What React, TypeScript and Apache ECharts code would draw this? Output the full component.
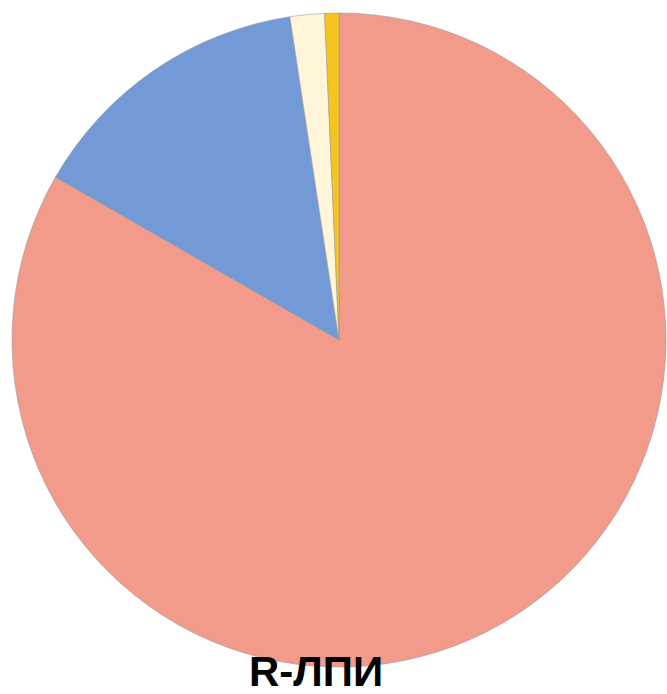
import React, { useEffect, useRef } from "react";
import * as echarts from "echarts";

const categories = ["A", "B", "C", "D"];
const values = [83.3, 14.3, 1.7, 0.7];
const colors = ["#F29B8B", "#7499D7", "#FFF5D8", "#F7C41D"];
const titleText = "R-ЛПИ";

export default function App() {
  const ref = useRef<HTMLDivElement>(null);
  useEffect(() => {
    const chart = echarts.init(ref.current!, null, { renderer: "svg" });
    chart.setOption({
      animation: false,
      backgroundColor: "#ffffff",
      title: {
        text: titleText,
        left: 316,
        top: 650,
        padding: 0,
        textAlign: "center",
        textStyle: {
          fontFamily: "Liberation Sans, Arial, sans-serif",
          fontWeight: "bold",
          fontSize: 42,
          lineHeight: 42,
          color: "#000",
        },
      },
      series: [
        {
          type: "pie",
          center: [339, 340],
          radius: [0, 327],
          startAngle: 90,
          clockwise: true,
          label: { show: false },
          labelLine: { show: false },
          emphasis: { disabled: true },
          itemStyle: { borderColor: "#9a9a9a", borderWidth: 0.6 },
          data: categories.map((c, i) => ({
            name: c,
            value: values[i],
            itemStyle: { color: colors[i] },
          })),
        },
      ],
    });
    return () => chart.dispose();
  }, []);
  return (
    <div
      ref={ref}
      style={{ position: "fixed", left: 0, top: 0, width: 667, height: 694 }}
    />
  );
}
